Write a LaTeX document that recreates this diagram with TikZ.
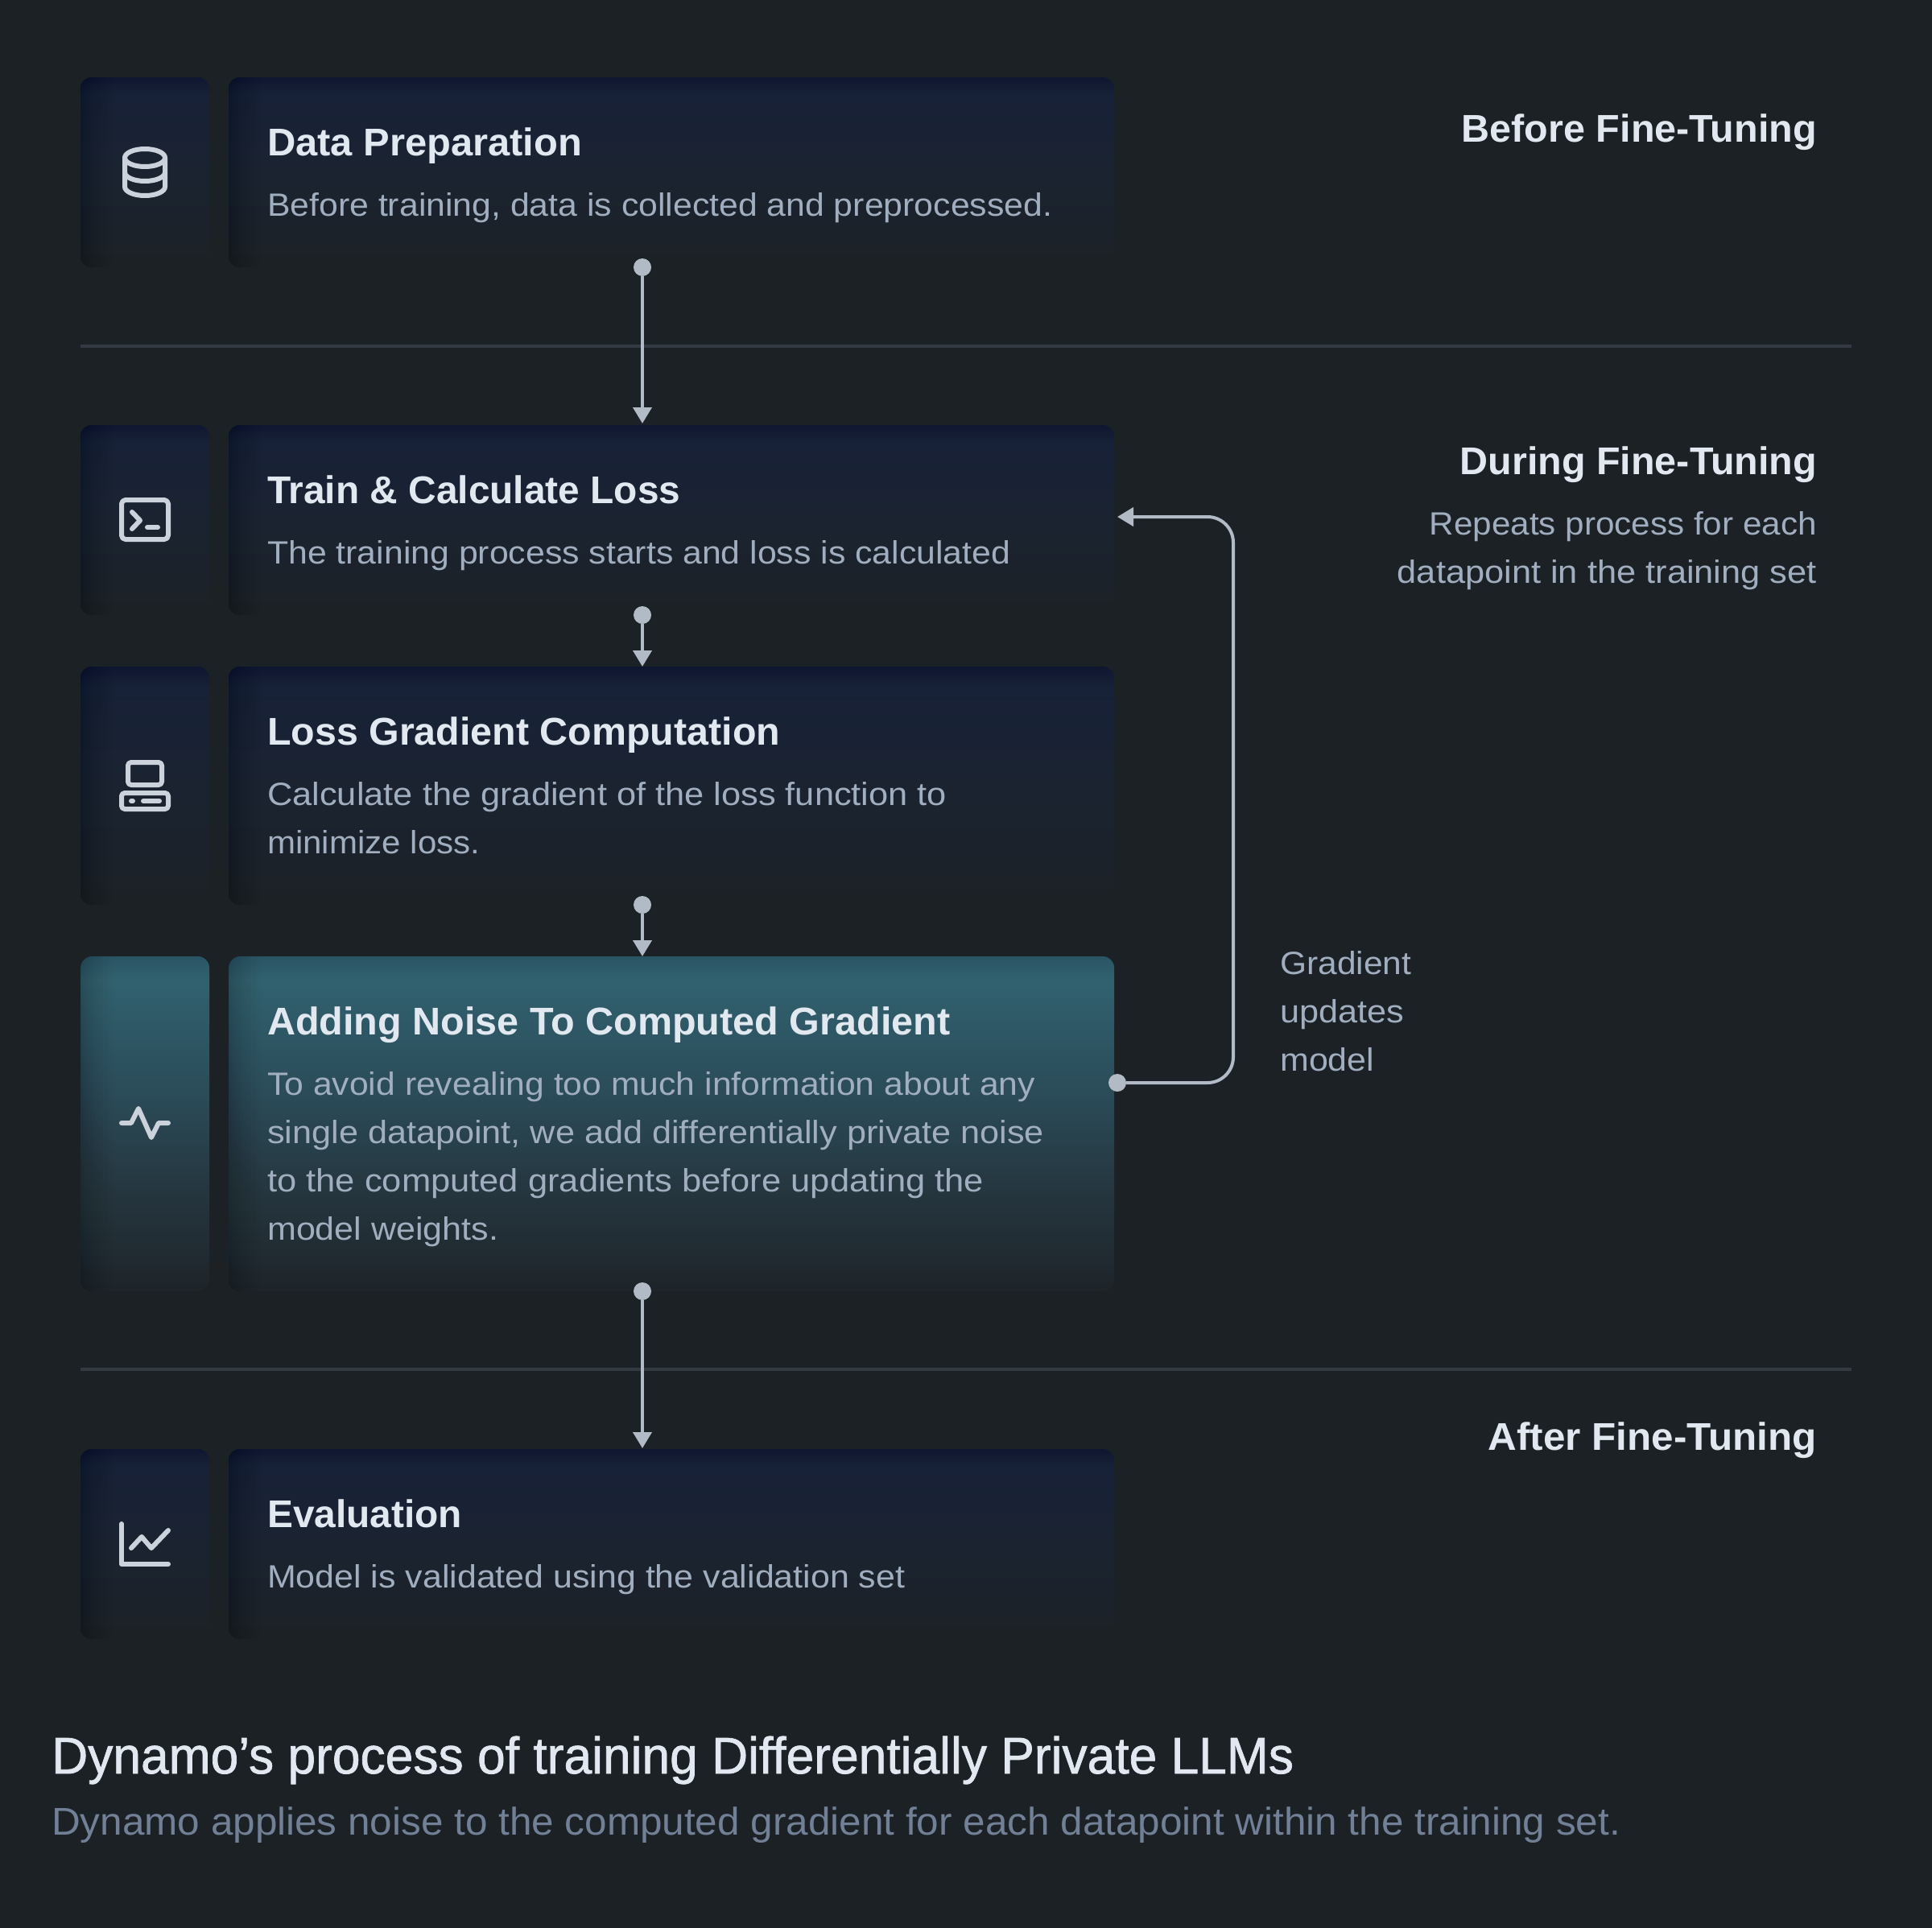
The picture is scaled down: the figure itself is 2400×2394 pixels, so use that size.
\documentclass[tikz,border=0pt]{standalone}
\usepackage{fontspec}
\usepackage{graphicx}
\setmainfont{Liberation Sans}
\newfontfamily\medf[FakeBold=1.2]{Liberation Sans}
\usetikzlibrary{arrows.meta}
\definecolor{bgc}{HTML}{1C2125}
\definecolor{titlec}{HTML}{E2E8F0}
\definecolor{descc}{HTML}{A0AEC0}
\definecolor{headc}{HTML}{E2E8F0}
\definecolor{capc}{HTML}{E2E8F0}
\definecolor{subc}{HTML}{718096}
\definecolor{linec}{HTML}{B2BAC6}
\definecolor{iconc}{HTML}{CBD2DC}
\definecolor{sepc}{HTML}{333A42}
\definecolor{NA0}{HTML}{1C2229}
\definecolor{NA1}{HTML}{1B2331}
\definecolor{NA2}{HTML}{172137}
\definecolor{NA3}{HTML}{0F1730}
\definecolor{TE0}{HTML}{1E2429}
\definecolor{TE1}{HTML}{25363F}
\definecolor{TE2}{HTML}{2B4C59}
\definecolor{TE3}{HTML}{31616F}
\definecolor{TE4}{HTML}{2A5464}
% the path fits the stretch 25bp-75bp of a shading
\pgfdeclareverticalshading{navycard}{100bp}{
 color(0bp)=(bgc);
 color(25bp)=(bgc);
 color(32.5bp)=(NA0);
 color(50bp)=(NA1);
 color(70.5bp)=(NA2);
 color(75bp)=(NA3);
 color(100bp)=(NA3)}
\pgfdeclareverticalshading{tealcard}{100bp}{
 color(0bp)=(TE0);
 color(25bp)=(TE0);
 color(40bp)=(TE1);
 color(55bp)=(TE2);
 color(71.5bp)=(TE3);
 color(75bp)=(TE4);
 color(100bp)=(TE4)}
\newcommand\fitw[2]{\resizebox{\dimexpr#1pt+2pt\relax}{\height}{#2}}
\newcommand\edgeshade[1]{%
 \begin{scope}
 \clip[rounded corners=14pt] (#1.north west) rectangle (#1.south east);
 \foreach \w in {2,4,7,10,14,18,23,28,34,40}
  \fill[black,opacity=0.018] (#1.north west) rectangle ([xshift=\w pt]#1.south west);
 \end{scope}}
\tikzset{
 x=1pt,y=-1pt,
 card/.style={inner sep=0pt,outer sep=0pt,rounded corners=14pt,shading=navycard,anchor=north west,minimum width=#1},
 iconbox/.style={card=160pt},
 mainbox/.style={card=1100pt},
 teal/.style={shading=tealcard},
 ttl/.style={anchor=base west,inner sep=0pt,text=titlec,font=\fontsize{48}{48}\selectfont\bfseries},
 dsc/.style={anchor=base west,inner sep=0pt,text=descc,font=\fontsize{40}{40}\selectfont},
 hdr/.style={anchor=base east,inner sep=0pt,text=headc,font=\fontsize{48}{48}\selectfont\bfseries},
 dscr/.style={anchor=base east,inner sep=0pt,text=descc,font=\fontsize{40}{40}\selectfont},
 sep/.style={draw=sepc,line width=4pt},
 conn/.style={draw=linec,line width=4pt,-{Triangle[length=20pt,width=23pt,fill=linec]}},
 jdot/.style={circle,fill=linec,inner sep=0pt,minimum size=22pt},
 ico/.style={draw=iconc,line width=6pt,line cap=round,line join=round},
}
\begin{document}
\begin{tikzpicture}
\useasboundingbox (0,0) rectangle (2400,2394);
\fill[bgc] (-4,-4) rectangle (2404,2398);
% separators
\coordinate (s1a) at (100,430); \coordinate (s1b) at (2300,430);
\coordinate (s2a) at (100,1701); \coordinate (s2b) at (2300,1701);
\draw[sep] (s1a) -- (s1b);
\draw[sep] (s2a) -- (s2b);
% cards
\node[iconbox,minimum height=236pt] (i1) at (100,96) {};
\node[mainbox,minimum height=236pt] (c1) at (284,96) {};
\node[iconbox,minimum height=236pt] (i2) at (100,528) {};
\node[mainbox,minimum height=236pt] (c2) at (284,528) {};
\node[iconbox,minimum height=296pt] (i3) at (100,828) {};
\node[mainbox,minimum height=296pt] (c3) at (284,828) {};
\node[iconbox,teal,minimum height=416pt] (i4) at (100,1188) {};
\node[mainbox,teal,minimum height=416pt] (c4) at (284,1188) {};
\node[iconbox,minimum height=236pt] (i5) at (100,1800) {};
\node[mainbox,minimum height=236pt] (c5) at (284,1800) {};
\foreach \n in {i1,c1,i2,c2,i3,c3,i4,c4,i5,c5} {\edgeshade{\n}}
% card text
\node[ttl] (t1) at (332,193) {\fitw{389}{Data Preparation}};
\node[dsc] (d1) at (332,268) {\fitw{973}{Before training, data is collected and preprocessed.}};
\node[ttl] (t2) at (332,625) {\fitw{511}{Train \& Calculate Loss}};
\node[dsc] (d2) at (332,700) {\fitw{921}{The training process starts and loss is calculated}};
\node[ttl] (t3) at (332,925) {\fitw{635}{Loss Gradient Computation}};
\node[dsc] (d3a) at (332,1000) {\fitw{842}{Calculate the gradient of the loss function to}};
\node[dsc] (d3b) at (332,1060) {\fitw{262}{minimize loss.}};
\node[ttl] (t4) at (332,1285) {\fitw{846}{Adding Noise To Computed Gradient}};
\node[dsc] (d4a) at (332,1360) {\fitw{952}{To avoid revealing too much information about any}};
\node[dsc] (d4b) at (332,1420) {\fitw{963}{single datapoint, we add differentially private noise}};
\node[dsc] (d4c) at (332,1480) {\fitw{888}{to the computed gradients before updating the}};
\node[dsc] (d4d) at (332,1540) {\fitw{285}{model weights.}};
\node[ttl] (t5) at (332,1897) {\fitw{240}{Evaluation}};
\node[dsc] (d5) at (332,1972) {\fitw{790}{Model is validated using the validation set}};
% right column
\node[hdr] (h1) at (2257,176) {\fitw{439}{Before Fine-Tuning}};
\node[hdr] (h2) at (2257,589) {\fitw{441}{During Fine-Tuning}};
\node[dscr] (r1) at (2257,664) {\fitw{479}{Repeats process for each}};
\node[dscr] (r2) at (2257,724) {\fitw{519}{datapoint in the training set}};
\node[hdr] (h3) at (2257,1801) {\fitw{406}{After Fine-Tuning}};
\node[dsc] (g1) at (1590,1210) {\fitw{161}{Gradient}};
\node[dsc] (g2) at (1590,1270) {\fitw{152}{updates}};
\node[dsc] (g3) at (1590,1330) {\fitw{115}{model}};
% caption
\node[anchor=base west,inner sep=0pt,text=capc,font=\fontsize{64}{64}\selectfont\medf] (cap) at (64,2203) {\fitw{1541}{Dynamo’s process of training Differentially Private LLMs}};
\node[anchor=base west,inner sep=0pt,text=subc,font=\fontsize{48}{48}\selectfont] (sub) at (64,2279) {\fitw{1947}{Dynamo applies noise to the computed gradient for each datapoint within the training set.}};
% connectors
\node[jdot] (j1) at (798,332) {};
\coordinate (k1) at (798,526);
\draw[conn] (j1) -- (k1);
\node[jdot] (j2) at (798,764) {};
\coordinate (k2) at (798,828);
\draw[conn] (j2) -- (k2);
\node[jdot] (j3) at (798,1124) {};
\coordinate (k3) at (798,1188);
\draw[conn] (j3) -- (k3);
\node[jdot] (j4) at (798,1604) {};
\coordinate (k4) at (798,1799);
\draw[conn] (j4) -- (k4);
\node[jdot] (j5) at (1388,1345) {};
\coordinate (k5) at (1388,642);
\coordinate (b1) at (1532,1345);
\coordinate (b2) at (1532,642);
\draw[conn,rounded corners=32pt] (j5) -- (b1) -- (b2) -- (k5);
% icons
\draw[ico] (180,196) ellipse [x radius=25pt,y radius=11pt];
\draw[ico] (155,196) -- (155,232) arc[start angle=180,end angle=360,x radius=25pt,y radius=11pt] -- (205,196);
\draw[ico] (155,214) arc[start angle=180,end angle=360,x radius=25pt,y radius=11pt];
\draw[ico,rounded corners=5pt] (151,621) rectangle (209,670);
\draw[ico] (164,636) -- (174,646.5) -- (164,657);
\draw[ico] (183,655) -- (196,655);
\draw[ico,rounded corners=4pt] (159,947) rectangle (201,975);
\draw[ico,rounded corners=4pt] (151,985) rectangle (209,1005);
\draw[ico] (163,995) -- (165,995);
\draw[ico] (178,995) -- (198,995);
\draw[ico] (151,1395) -- (163,1395) -- (172,1377) -- (188,1413) -- (197,1395) -- (209,1395);
\draw[ico] (151,1893) -- (151,1943) -- (209,1943);
\draw[ico] (163,1923) -- (176,1909) -- (188,1923) -- (209,1901);
\end{tikzpicture}
\end{document}
